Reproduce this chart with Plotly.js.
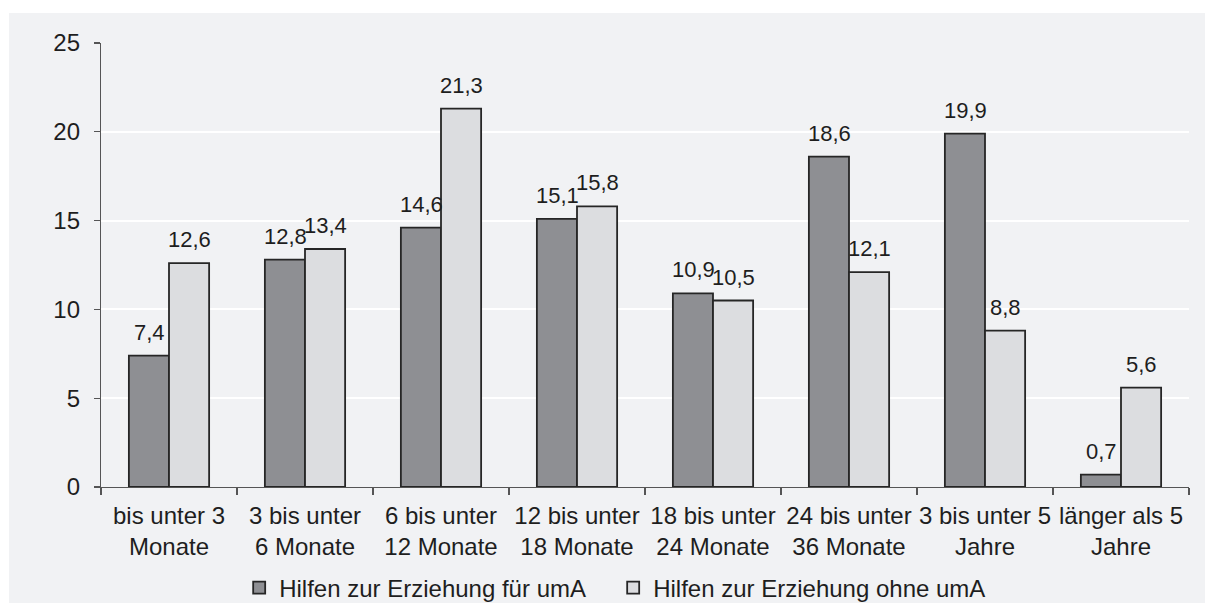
<!DOCTYPE html>
<html>
<head>
<meta charset="utf-8">
<script src="https://cdn.plot.ly/plotly-3.0.1.min.js"></script>
<style>
html,body{margin:0;padding:0;background:#ffffff;width:1205px;height:603px;overflow:hidden;}
#chart{position:absolute;left:9px;top:13px;width:1196px;height:590px;}
</style>
</head>
<body>
<div id="chart"></div>
<script>
const categories = [
  "bis unter 3<br>Monate",
  "3 bis unter<br>6 Monate",
  "6 bis unter<br>12 Monate",
  "12 bis unter<br>18 Monate",
  "18 bis unter<br>24 Monate",
  "24 bis unter<br>36 Monate",
  "3 bis unter 5<br>Jahre",
  "länger als 5<br>Jahre"
];
const seriesNames = ["Hilfen zur Erziehung für umA", "Hilfen zur Erziehung ohne umA"];
const valuesMitUmA = [7.4, 12.8, 14.6, 15.1, 10.9, 18.6, 19.9, 0.7];
const valuesOhneUmA = [12.6, 13.4, 21.3, 15.8, 10.5, 12.1, 8.8, 5.6];
const yTicks = [0, 5, 10, 15, 20, 25];

const FAM = "Liberation Sans, Arial, sans-serif";
const TXT = "#1e1e1e";
const tickFont = {family: FAM, size: 24, color: TXT};
const labelFont = {family: FAM, size: 22, color: TXT};

function fmt(v) { return v.toFixed(1).replace(".", ","); }

function barTrace(name, vals, color) {
  return {
    type: "bar",
    name: name,
    x: categories,
    y: vals,
    marker: {color: color, line: {color: "#262626", width: 1.8}},
    hoverinfo: "skip"
  };
}

const data = [
  barTrace(seriesNames[0], valuesMitUmA, "#8e8f93"),
  barTrace(seriesNames[1], valuesOhneUmA, "#dcdde0")
];

// value labels above each bar (offset to each bar of the group)
const annotations = [];
[[valuesMitUmA, -20], [valuesOhneUmA, 20]].forEach(([vals, dx]) => {
  vals.forEach((v, i) => {
    annotations.push({
      x: categories[i], y: v, xref: "x", yref: "y",
      text: fmt(v), showarrow: false,
      xanchor: "center", yanchor: "bottom",
      xshift: dx, yshift: 9,
      font: labelFont
    });
  });
});

const layout = {
  width: 1196,
  height: 590,
  margin: {l: 92, r: 16, t: 30, b: 116, autoexpand: false},
  paper_bgcolor: "#f1f2f4",
  plot_bgcolor: "#f1f2f4",
  separators: ",.",
  font: tickFont,
  barmode: "group",
  bargap: 0.41,
  bargroupgap: 0,
  showlegend: true,
  annotations: annotations,
  legend: {
    orientation: "h",
    x: 0.127, xanchor: "left",
    y: -0.2275, yanchor: "middle",
    entrywidth: 329, entrywidthmode: "pixels",
    font: {family: FAM, size: 24, color: TXT},
    bgcolor: "rgba(0,0,0,0)",
    traceorder: "normal"
  },
  xaxis: {
    type: "category",
    automargin: false,
    tickangle: 0,
    showline: true, linecolor: "#555555", linewidth: 1.2,
    ticks: "outside", tickson: "boundaries", ticklen: 7, tickcolor: "#555555", tickwidth: 1.2,
    ticklabelstandoff: 7,
    showgrid: false,
    tickfont: tickFont,
    fixedrange: true
  },
  yaxis: {
    automargin: false,
    range: [0, 25],
    tickvals: yTicks,
    ticktext: yTicks.map(String),
    showline: true, linecolor: "#555555", linewidth: 1.2,
    ticks: "outside", ticklen: 6, tickcolor: "#555555", tickwidth: 1.2,
    ticklabelstandoff: 9,
    showgrid: true, gridcolor: "#ffffff", gridwidth: 1.8,
    zeroline: false,
    tickfont: tickFont,
    fixedrange: true
  }
};

Plotly.newPlot("chart", data, layout, {displayModeBar: false, staticPlot: true});
</script>
</body>
</html>
